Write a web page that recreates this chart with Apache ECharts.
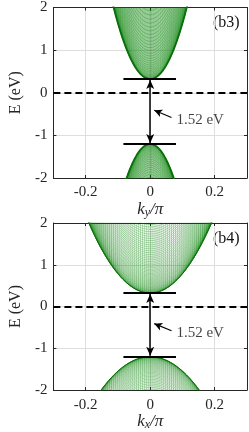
<!DOCTYPE html>
<html><head><meta charset="utf-8">
<script src="https://cdn.jsdelivr.net/npm/echarts@6/dist/echarts.min.js"></script>
<style>html,body{margin:0;padding:0;background:#fff}#c{width:249px;height:432px}</style>
</head><body><div id="c"></div>
<script>
// ---- data ----
const xTicks = [-0.2, 0, 0.2];
const yTicks = [-2, -1, 0, 1, 2];
const panelLabels = ['(b3)', '(b4)'];
const axisVars = ['y', 'x'];
const cbm = 0.32;          // conduction band minimum (eV)
const vbm = -1.2;          // valence band maximum (eV)
const gapLabel = '1.52 eV';
// band curvatures (eV per (k/pi)^2), along the plotted k and along the perpendicular k
const condCurvAlong = [131, 46.5];
const condCurvPerp  = [46.5, 131];
const valCurvAlong  = [150, 34.6];
const valCurvPerp   = [34.6, 150];
// k sampling steps of the calculation (plotted direction / perpendicular direction)
const alongStep = [0.002, 0.006];
const perpStep  = [0.006, 0.002];
// band-edge marker segments and annotation arrow
const edgeSeg = [-0.083, 0.08];
const noteArrow = [[0.066, -0.58], [0.0125, -0.41]];
const notePos = [0.155, -0.64];

const FONT = 'Liberation Serif';
const INK = '#262626';
const MESH = ['rgba(0,128,0,0.62)', 'rgba(0,128,0,0.55)'];

function bandMesh(p, sign) {
  const E0 = sign > 0 ? cbm : vbm;
  const a = sign > 0 ? condCurvAlong[p] : valCurvAlong[p];
  const b = sign > 0 ? condCurvPerp[p] : valCurvPerp[p];
  const lim = sign > 0 ? 2.05 : -2.05;
  const data = [];
  for (let n = 0; n < 400; n++) {
    const q = n * perpStep[p];
    const s = b * q * q;
    if (Math.abs(E0 + sign * s) > 2.05) break;
    const kmax = Math.sqrt((Math.abs(lim - E0) - s) / a) + 0.004;
    const N = 80;
    for (let i = 0; i <= N; i++) {
      const k = -kmax + 2 * kmax * i / N;
      data.push([k, E0 + sign * (s + a * k * k)]);
    }
    data.push([0, '-']);
  }
  for (let m = -400; m <= 400; m++) {
    const k = m * alongStep[p];
    const e = E0 + sign * a * k * k;
    if (Math.abs(e) > 2.05) continue;
    data.push([k, e], [k, lim], [k, '-']);
  }
  return data;
}
function envelope(p, sign) {
  const E0 = sign > 0 ? cbm : vbm;
  const a = sign > 0 ? condCurvAlong[p] : valCurvAlong[p];
  const lim = sign > 0 ? 2.05 : -2.05;
  const kmax = Math.sqrt(Math.abs(lim - E0) / a) + 0.004;
  const d = [];
  for (let i = 0; i <= 120; i++) { const k = -kmax + 2 * kmax * i / 120; d.push([k, E0 + sign * a * k * k]); }
  return d;
}

const grids = [], xAxes = [], yAxes = [], series = [], graphics = [];
const gTop = [7, 223];
const solid = (w) => ({ color: '#000', width: w, type: 'solid' });
for (let p = 0; p < 2; p++) {
  grids.push({ left: 38, top: gTop[p], width: 209, height: 171 });
  const xi = xAxes.length, yi = yAxes.length;
  xAxes.push({
    gridIndex: p, type: 'value', min: -0.3, max: 0.3, position: 'bottom',
    axisLine: { show: true, onZero: false, lineStyle: { color: INK, width: 1 } },
    axisTick: { show: true, inside: true, length: 3, customValues: xTicks, lineStyle: { color: INK } },
    axisLabel: { customValues: xTicks, formatter: v => String(v), fontFamily: FONT, fontSize: 15, color: INK, margin: 7 },
    splitLine: { show: true, customValues: xTicks, lineStyle: { color: '#dedede', width: 1 } },
    name: '{i|k}{s|' + axisVars[p] + '}{i|/π}', nameLocation: 'middle', nameGap: 20,
    nameTextStyle: { rich: {
      i: { fontFamily: FONT, fontStyle: 'italic', fontSize: 17, color: INK },
      s: { fontFamily: FONT, fontStyle: 'italic', fontSize: 12, color: INK, padding: [7, 0, 0, 0] } } }
  });
  xAxes.push({
    gridIndex: p, type: 'value', min: -0.3, max: 0.3, position: 'top',
    axisLine: { show: true, onZero: false, lineStyle: { color: INK, width: 1 } },
    axisTick: { show: true, inside: true, length: 3, customValues: xTicks, lineStyle: { color: INK } },
    axisLabel: { show: false }, splitLine: { show: false }
  });
  yAxes.push({
    gridIndex: p, type: 'value', min: -2, max: 2, interval: 1, position: 'left',
    axisLine: { show: true, onZero: false, lineStyle: { color: INK, width: 1 } },
    axisTick: { show: true, inside: true, length: 3, lineStyle: { color: INK } },
    axisLabel: { fontFamily: FONT, fontSize: 15, color: INK, margin: 6 },
    splitLine: { show: true, lineStyle: { color: '#dedede', width: 1 } },
    name: 'E (eV)', nameLocation: 'middle', nameGap: 22,
    nameTextStyle: { fontFamily: FONT, fontSize: 16, color: INK }
  });
  yAxes.push({
    gridIndex: p, type: 'value', min: -2, max: 2, interval: 1, position: 'right',
    axisLine: { show: true, onZero: false, lineStyle: { color: INK, width: 1 } },
    axisTick: { show: true, inside: true, length: 3, lineStyle: { color: INK } },
    axisLabel: { show: false }, splitLine: { show: false }
  });
  const base = { type: 'line', xAxisIndex: xi, yAxisIndex: yi, showSymbol: false, silent: true,
                 connectNulls: false, animation: false, clip: true };
  series.push(Object.assign({}, base, { data: bandMesh(p, 1), lineStyle: { color: MESH[p], width: 0.5 } }));
  series.push(Object.assign({}, base, { data: bandMesh(p, -1), lineStyle: { color: MESH[p], width: 0.5 } }));
  series.push(Object.assign({}, base, { data: envelope(p, 1), lineStyle: { color: '#0a6e0a', width: p === 0 ? 1.8 : 1 } }));
  series.push(Object.assign({}, base, { data: envelope(p, -1), lineStyle: { color: '#0a6e0a', width: p === 0 ? 1.8 : 1 } }));
  series.push({
    type: 'scatter', xAxisIndex: xi, yAxisIndex: yi, symbolSize: 0, silent: true, animation: false,
    data: [notePos],
    label: { show: true, position: 'inside', formatter: gapLabel, fontFamily: FONT, fontSize: 15, color: '#111' },
    markLine: {
      silent: true, animation: false, symbol: 'none', label: { show: false },
      lineStyle: { type: 'solid', color: '#000' },
      data: [
        [{ xAxis: -0.3, yAxis: 0, lineStyle: { color: '#000', width: 2, type: [7, 4] } }, { xAxis: 0.3, yAxis: 0 }],
        [{ coord: [edgeSeg[0], cbm], lineStyle: solid(2) }, { coord: [edgeSeg[1], cbm] }],
        [{ coord: [edgeSeg[0], vbm], lineStyle: solid(2) }, { coord: [edgeSeg[1], vbm] }],
        [{ coord: [0, vbm + 0.02], symbol: 'arrow', symbolSize: [6, 9], lineStyle: solid(1.5) },
         { coord: [0, cbm - 0.02], symbol: 'arrow', symbolSize: [6, 9] }],
        [{ coord: noteArrow[0], symbol: 'none', lineStyle: solid(1.2) },
         { coord: noteArrow[1], symbol: 'arrow', symbolSize: [6, 8] }]
      ]
    }
  });
  graphics.push({ type: 'text', left: 213, top: gTop[p] + 8,
    style: { text: panelLabels[p], fontFamily: FONT, fontSize: 16, fill: '#111' }, silent: true });
}

const chart = echarts.init(document.getElementById('c'), null, { renderer: 'canvas' });
chart.setOption({
  animation: false, backgroundColor: '#fff',
  grid: grids, xAxis: xAxes, yAxis: yAxes, series: series, graphic: graphics
});
</script></body></html>
